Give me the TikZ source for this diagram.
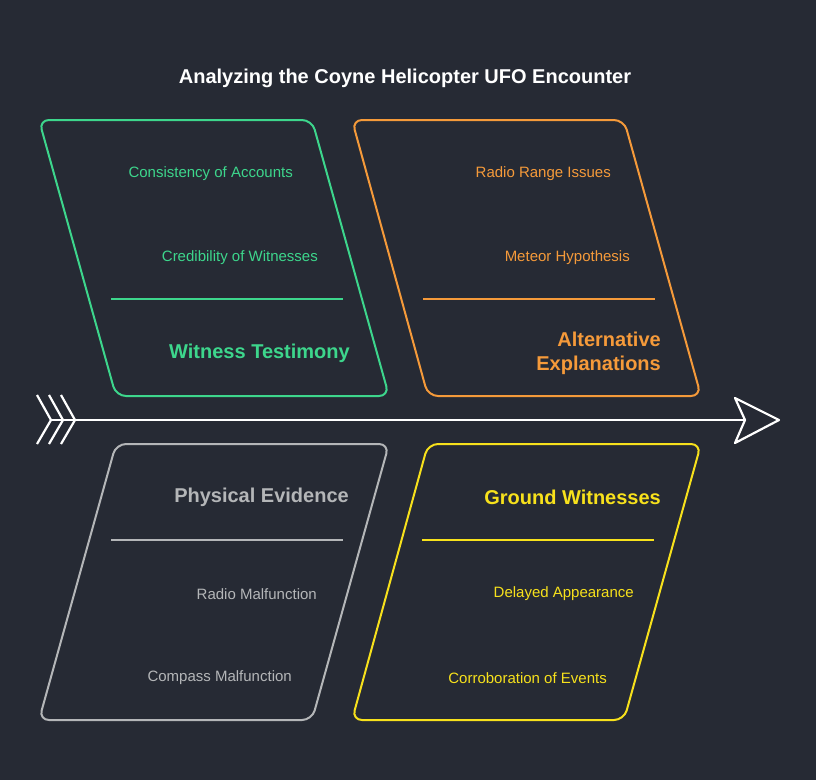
\documentclass[tikz,border=0pt]{standalone}
\usepackage{fontspec}
\setmainfont{Liberation Sans}
\definecolor{bgcol}{HTML}{262A34}
\definecolor{wtgreen}{HTML}{3DD68C}
\definecolor{altorange}{HTML}{F59A3A}
\definecolor{physgray}{HTML}{B4B6B8}
\definecolor{gndyellow}{HTML}{F7E11C}
\begin{document}
\begin{tikzpicture}[x=1pt,y=-1pt,every node/.style={inner sep=0pt,font=\fontsize{15}{18}\selectfont}]
        \tikzset{box/.style = {line width=2pt,rounded corners=10pt},
                 cause/.style = {anchor=east,font=\fontsize{20}{24}\selectfont\bfseries,align=right},
                 spine/.style = {line width=2.2pt,white,line join=miter}}
        \fill[bgcol] (0,0) rectangle (816,780);
        \useasboundingbox (0,0) rectangle (816,780);

        \node[white,font=\fontsize{20}{24}\selectfont\bfseries] (title) at (405,78) {Analyzing the Coyne Helicopter UFO Encounter};

        % spine
        \coordinate (tail) at (51,420);
        \coordinate (notch) at (745,420);
        \draw[spine] (tail) -- (notch);
        \draw[spine] (37,395) -- (51,420) -- (37,444);
        \draw[spine] (49,395) -- (63,420) -- (49,444);
        \draw[spine] (61,395) -- (75,420) -- (61,444);
        \draw[spine,line join=round] (735,398) -- (779,420) -- (735,443) -- (notch) -- cycle;

        % Witness Testimony
        \draw[box,wtgreen] (39,120) -- (312,120) -- (389,396) -- (116,396) -- cycle;
        \draw[wtgreen,line width=1.6pt] (111,299) -- (343,299);
        \node[wtgreen,anchor=east] (cons) at (293,174) {Consistency of Accounts};
        \node[wtgreen,anchor=east] (cred) at (318,258) {Credibility of Witnesses};
        \node[cause,wtgreen] (wit) at (350,353) {Witness Testimony};

        % Alternative Explanations
        \draw[box,altorange] (352,120) -- (624,120) -- (701,396) -- (428,396) -- cycle;
        \draw[altorange,line width=1.6pt] (423,299) -- (655,299);
        \node[altorange,anchor=east] (range) at (611,174) {Radio Range Issues};
        \node[altorange,anchor=east] (meteor) at (630,258) {Meteor Hypothesis};
        \node[cause,altorange] (alt) at (661,353) {Alternative\\Explanations};

        % Physical Evidence
        \draw[box,physgray] (116,444) -- (389,444) -- (312,720) -- (39,720) -- cycle;
        \draw[physgray,line width=1.6pt] (111,540) -- (343,540);
        \node[cause,physgray] (phys) at (349,497) {Physical Evidence};
        \node[physgray,anchor=east] (radio) at (317,594) {Radio Malfunction};
        \node[physgray,anchor=east] (compass) at (292,678) {Compass Malfunction};

        % Ground Witnesses
        \draw[box,gndyellow] (428,444) -- (701,444) -- (624,720) -- (352,720) -- cycle;
        \draw[gndyellow,line width=1.6pt] (422,540) -- (654,540);
        \node[cause,gndyellow] (ground) at (661,497) {Ground Witnesses};
        \node[gndyellow,anchor=east] (delay) at (634,594) {Delayed Appearance};
        \node[gndyellow,anchor=east] (corr) at (607,678) {Corroboration of Events};
\end{tikzpicture}
\end{document}
